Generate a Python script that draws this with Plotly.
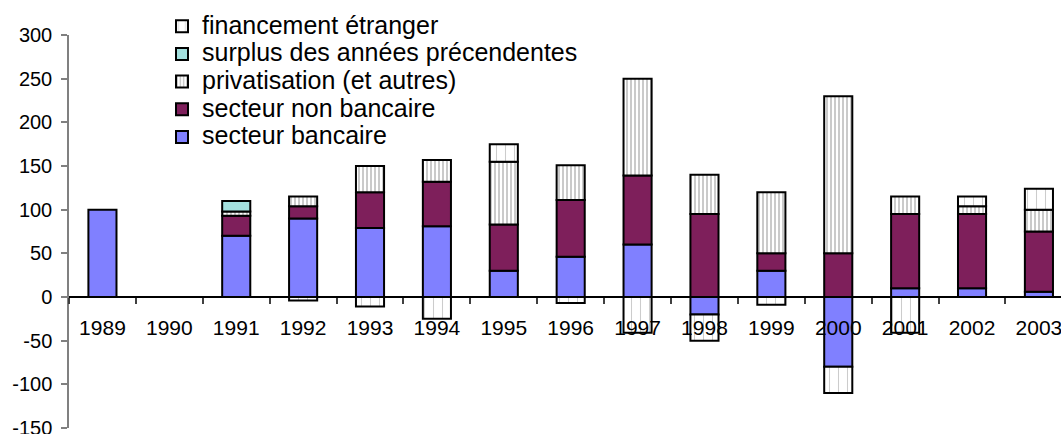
import plotly.graph_objects as go

years = ["1989", "1990", "1991", "1992", "1993", "1994", "1995", "1996",
         "1997", "1998", "1999", "2000", "2001", "2002", "2003"]

secteur_bancaire = [100, None, 70, 90, 79, 81, 30, 46, 60, -20, 30, -80, 10, 10, 6]
secteur_non_bancaire = [None, None, 23, 14, 41, 51, 53, 65, 79, 95, 20, 50, 85, 85, 69]
privatisation = [None, None, 5, 11, 30, 25, 72, 40, 111, 45, 70, 180, 20, 9, 25]
surplus = [None, None, 12, None, None, None, None, None, None, None, None, None, None, None, None]
financement_etranger = [None, None, None, -4, -11, -25, 20, -7, -41, -30, -9, -30, -41, 11, 24]

series_names = ["secteur bancaire", "secteur non bancaire", "privatisation (et autres)",
                "surplus des années précendentes", "financement étranger"]

y_ticks = [-150, -100, -50, 0, 50, 100, 150, 200, 250, 300]

# figure slightly larger than the window; the page is cropped to 1061x434
EXTRA = 8
W, H = 1061 + EXTRA, 434 + EXTRA
ml, mt, mb, mr = 69, 34.7, 5.7 + EXTRA, EXTRA
FONT = "Liberation Sans, Arial, sans-serif"
outline = dict(color="black", width=2)
bw = 0.42


def lname(s):
    return '<span style="font-size:25px">' + s + '</span>'


fig = go.Figure()
fig.add_trace(go.Bar(x=years, y=secteur_bancaire, name=lname(series_names[0]), width=bw,
                     marker=dict(color="#8080FF", line=outline)))
fig.add_trace(go.Bar(x=years, y=secteur_non_bancaire, name=lname(series_names[1]), width=bw,
                     marker=dict(color="#7E1F5B", line=outline)))
fig.add_trace(go.Bar(x=years, y=privatisation, name=lname(series_names[2]), width=bw,
                     marker=dict(color="white", line=outline,
                                 pattern=dict(shape="|", fgcolor="#7a7a7a", bgcolor="white",
                                              size=4, solidity=0.4))))
fig.add_trace(go.Bar(x=years, y=surplus, name=lname(series_names[3]), width=bw,
                     marker=dict(color="#A3E0DE", line=outline)))
fig.add_trace(go.Bar(x=years, y=financement_etranger, name=lname(series_names[4]), width=bw,
                     marker=dict(color="white", line=outline,
                                 pattern=dict(shape="|", fgcolor="#9a9a9a", bgcolor="white",
                                              size=9, solidity=0.12))))

ph = H - mt - mb
pw = W - ml - mr
fig.update_layout(
    width=W, height=H,
    margin=dict(l=ml, r=mr, t=mt, b=mb, pad=0, autoexpand=False),
    barmode="relative",
    paper_bgcolor="white", plot_bgcolor="white",
    font=dict(family=FONT, color="black"),
    showlegend=True,
    legend=dict(
        x=(162 - ml) / pw, y=1 + (mt - 7) / ph,
        xanchor="left", yanchor="top",
        traceorder="reversed",
        font=dict(size=19, family=FONT, color="black"),
        bgcolor="rgba(0,0,0,0)", itemwidth=30, tracegroupgap=0,
    ),
    xaxis=dict(
        type="category", range=[-0.5, 14.33],
        anchor="free", position=1 / 3,
        showline=True, linecolor="black", linewidth=1.5,
        ticks="outside", tickson="boundaries", ticklen=6, tickcolor="#404040", tickwidth=1.5,
        tickfont=dict(size=21, family=FONT, color="black"),
        ticklabelstandoff=12, ticklabeloverflow="allow",
        showgrid=False, zeroline=False,
    ),
    yaxis=dict(
        range=[-150, 300], tickvals=y_ticks, ticktext=[str(v) for v in y_ticks],
        showline=True, linecolor="#808080", linewidth=1.5,
        ticks="outside", ticklen=6, tickcolor="#808080", tickwidth=1.5,
        tickfont=dict(size=20, family=FONT, color="black"),
        ticklabelstandoff=5, ticklabeloverflow="allow",
        showgrid=False, zeroline=False,
    ),
)

fig.write_html(
    "out.html",
    config={"displayModeBar": False},
    post_script="document.body.style.margin='0';document.body.style.overflow='hidden';"
                "document.documentElement.style.overflow='hidden';",
)
